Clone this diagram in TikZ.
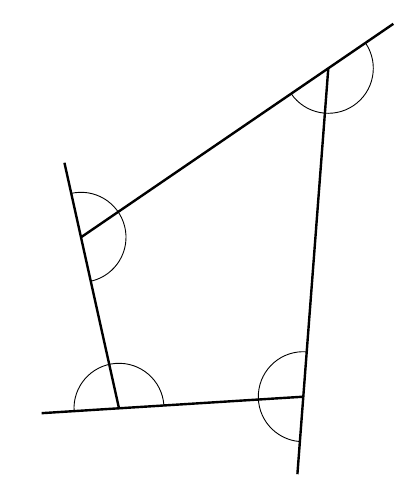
\documentclass[tikz,border=0pt]{standalone}
\usetikzlibrary{calc}
\begin{document}
\begin{tikzpicture}[x=1pt,y=1pt,
    side/.style={black, line width=2.4pt},
    anglearc/.style={black, line width=0.9pt}]
                \useasboundingbox (0,0) rectangle (410,499);
                \coordinate (A) at (81,261.7);
                \coordinate (B) at (328.3,430.7);
                \coordinate (C) at (119,90.7);
                \coordinate (D) at (303.3,102.3);
                % ends of the extended sides
                \coordinate (Aend) at ($(C)!1.436!(A)$);
                \coordinate (Bend) at ($(A)!1.263!(B)$);
                \coordinate (Cend) at ($(D)!1.42!(C)$);
                \coordinate (Dend) at ($(B)!1.236!(D)$);
                \draw [side] (Aend) -- (C);
                \draw [side] (A) -- (Bend);
                \draw [side] (Cend) -- (D);
                \draw [side] (B) -- (Dend);
                % angle arcs
                \draw [anglearc] ($(A)+(104:45)$) arc (104:-76:45);
                \draw [anglearc] ($(B)+(214:45)$) arc (214:394:45);
                \draw [anglearc] ($(C)+(184:45)$) arc (184:4:45);
                \draw [anglearc] ($(D)+(85.6:45)$) arc (85.6:265.6:45);
            \end{tikzpicture}
\end{document}
